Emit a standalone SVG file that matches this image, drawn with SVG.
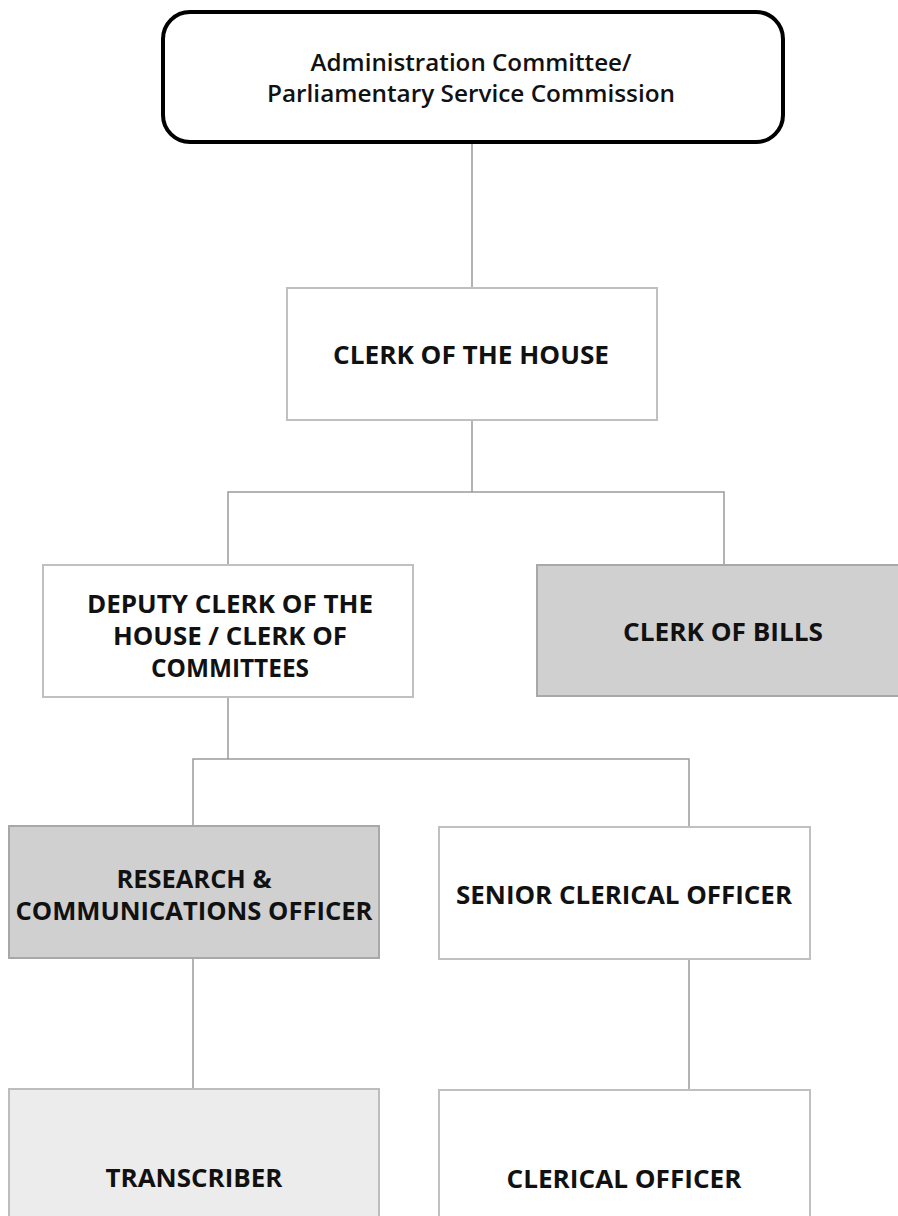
<svg xmlns="http://www.w3.org/2000/svg" width="898" height="1216" viewBox="0 0 898 1216">
<style>
.box{stroke:#c0c0c0;stroke-width:2}
.w{fill:#ffffff}
.g{fill:#d0d0d0;stroke:#a8a8a8}
.lg{fill:#ececec;stroke:#bdbdbd}
.t{font-family:"Open Sans","Noto Sans","Liberation Sans",sans-serif;font-weight:700;font-size:25px;fill:#111;text-anchor:middle}
.tt{font-family:"Open Sans","Noto Sans","Liberation Sans",sans-serif;font-weight:600;font-size:22.5px;fill:#111;text-anchor:middle}
.c{stroke:#9a9a9a;stroke-width:1.5;fill:none}
</style>
<rect width="898" height="1216" fill="#ffffff"/>
<g id="connectors">
<path class="c" d="M472 143 V288"/>
<path class="c" d="M472 420 V492 M228 565 V492 H724 V565"/>
<path class="c" d="M228 697 V759 M193 826 V759 H689 V827"/>
<path class="c" d="M193 958 V1089"/>
<path class="c" d="M689 959 V1090"/>
</g>
<g id="n-admin">
<rect x="163" y="12" width="620" height="130" rx="27" fill="#fff" stroke="#000" stroke-width="4"/>
<text class="tt" x="471" y="71" textLength="321" lengthAdjust="spacingAndGlyphs">Administration Committee/</text>
<text class="tt" x="471" y="102" textLength="408" lengthAdjust="spacingAndGlyphs">Parliamentary Service Commission</text>
</g>
<g id="n-clerk">
<rect class="box w" x="287" y="288" width="370" height="132"/>
<text class="t" x="471" y="364" textLength="276" lengthAdjust="spacingAndGlyphs">CLERK OF THE HOUSE</text>
</g>
<g id="n-deputy">
<rect class="box w" x="43" y="565" width="370" height="132"/>
<text class="t" x="230" y="613" textLength="286" lengthAdjust="spacingAndGlyphs">DEPUTY CLERK OF THE</text>
<text class="t" x="230" y="645" textLength="234" lengthAdjust="spacingAndGlyphs">HOUSE / CLERK OF</text>
<text class="t" x="230" y="677" textLength="158" lengthAdjust="spacingAndGlyphs">COMMITTEES</text>
</g>
<g id="n-bills">
<rect class="box g" x="537" y="565" width="374" height="131"/>
<text class="t" x="723" y="641" textLength="200" lengthAdjust="spacingAndGlyphs">CLERK OF BILLS</text>
</g>
<g id="n-research">
<rect class="box g" x="9" y="826" width="370" height="132"/>
<text class="t" x="194" y="888" textLength="155" lengthAdjust="spacingAndGlyphs">RESEARCH &amp;</text>
<text class="t" x="194" y="920" textLength="357" lengthAdjust="spacingAndGlyphs">COMMUNICATIONS OFFICER</text>
</g>
<g id="n-senior">
<rect class="box w" x="439" y="827" width="371" height="132"/>
<text class="t" x="624" y="904" textLength="336" lengthAdjust="spacingAndGlyphs">SENIOR CLERICAL OFFICER</text>
</g>
<g id="n-transcriber">
<rect class="box lg" x="9" y="1089" width="370" height="140"/>
<text class="t" x="194" y="1187" textLength="177" lengthAdjust="spacingAndGlyphs">TRANSCRIBER</text>
</g>
<g id="n-clerical">
<rect class="box w" x="439" y="1090" width="371" height="140"/>
<text class="t" x="624" y="1188" textLength="235" lengthAdjust="spacingAndGlyphs">CLERICAL OFFICER</text>
</g>
</svg>
